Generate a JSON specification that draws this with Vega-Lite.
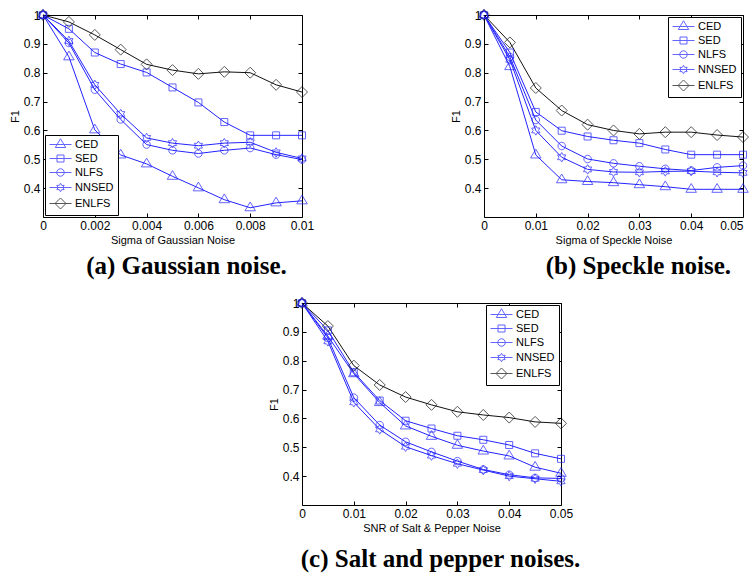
{
  "$schema": "https://vega.github.io/schema/vega-lite/v6.json",
  "padding": {"left": 8, "top": 6, "right": 0, "bottom": 0},
  "background": "white",
  "config": {
    "font": "Liberation Sans",
    "view": {"stroke": "black", "strokeWidth": 1},
    "point": {"size": 100, "filled": false, "strokeWidth": 1},
    "axis": {"grid": false, "domain": false, "tickColor": "black", "tickSize": -4, "labelPadding": 7, "labelFontSize": 12, "labelColor": "black", "labelFont": "Liberation Sans", "titleFont": "Liberation Sans", "titleFontSize": 11, "titleFontWeight": "normal", "titleColor": "black", "titlePadding": 3, "labelFlush": false, "labelOverlap": false},
    "legend": {"strokeColor": "black", "fillColor": "white", "padding": 4, "rowPadding": 2, "labelFontSize": 11, "labelColor": "black", "labelFont": "Liberation Sans", "symbolStrokeWidth": 1, "offset": 2, "symbolSize": 100, "symbolOffset": 6, "labelOffset": 9, "cornerRadius": 0},
    "title": {"font": "Liberation Serif", "fontSize": 25, "fontWeight": "bold", "orient": "bottom", "color": "black", "frame": "bounds", "offset": 9}
  },
  "datasets": {
    "gauss": [
      {"method":"CED","sigma":0,"F1":1.0},{"method":"CED","sigma":0.001,"F1":0.855},{"method":"CED","sigma":0.002,"F1":0.602},{"method":"CED","sigma":0.003,"F1":0.515},{"method":"CED","sigma":0.004,"F1":0.484},{"method":"CED","sigma":0.005,"F1":0.441},{"method":"CED","sigma":0.006,"F1":0.401},{"method":"CED","sigma":0.007,"F1":0.360},{"method":"CED","sigma":0.008,"F1":0.332},{"method":"CED","sigma":0.009,"F1":0.349},{"method":"CED","sigma":0.01,"F1":0.356},
      {"method":"SED","sigma":0,"F1":1.0},{"method":"SED","sigma":0.001,"F1":0.952},{"method":"SED","sigma":0.002,"F1":0.870},{"method":"SED","sigma":0.003,"F1":0.830},{"method":"SED","sigma":0.004,"F1":0.801},{"method":"SED","sigma":0.005,"F1":0.749},{"method":"SED","sigma":0.006,"F1":0.697},{"method":"SED","sigma":0.007,"F1":0.629},{"method":"SED","sigma":0.008,"F1":0.583},{"method":"SED","sigma":0.009,"F1":0.583},{"method":"SED","sigma":0.01,"F1":0.583},
      {"method":"NLFS","sigma":0,"F1":1.0},{"method":"NLFS","sigma":0.001,"F1":0.903},{"method":"NLFS","sigma":0.002,"F1":0.741},{"method":"NLFS","sigma":0.003,"F1":0.638},{"method":"NLFS","sigma":0.004,"F1":0.551},{"method":"NLFS","sigma":0.005,"F1":0.531},{"method":"NLFS","sigma":0.006,"F1":0.520},{"method":"NLFS","sigma":0.007,"F1":0.531},{"method":"NLFS","sigma":0.008,"F1":0.539},{"method":"NLFS","sigma":0.009,"F1":0.516},{"method":"NLFS","sigma":0.01,"F1":0.499},
      {"method":"NNSED","sigma":0,"F1":1.0},{"method":"NNSED","sigma":0.001,"F1":0.910},{"method":"NNSED","sigma":0.002,"F1":0.758},{"method":"NNSED","sigma":0.003,"F1":0.657},{"method":"NNSED","sigma":0.004,"F1":0.574},{"method":"NNSED","sigma":0.005,"F1":0.556},{"method":"NNSED","sigma":0.006,"F1":0.547},{"method":"NNSED","sigma":0.007,"F1":0.556},{"method":"NNSED","sigma":0.008,"F1":0.559},{"method":"NNSED","sigma":0.009,"F1":0.524},{"method":"NNSED","sigma":0.01,"F1":0.503},
      {"method":"ENLFS","sigma":0,"F1":1.0},{"method":"ENLFS","sigma":0.001,"F1":0.976},{"method":"ENLFS","sigma":0.002,"F1":0.931},{"method":"ENLFS","sigma":0.003,"F1":0.880},{"method":"ENLFS","sigma":0.004,"F1":0.829},{"method":"ENLFS","sigma":0.005,"F1":0.809},{"method":"ENLFS","sigma":0.006,"F1":0.796},{"method":"ENLFS","sigma":0.007,"F1":0.803},{"method":"ENLFS","sigma":0.008,"F1":0.800},{"method":"ENLFS","sigma":0.009,"F1":0.758},{"method":"ENLFS","sigma":0.01,"F1":0.733}
    ],
    "speckle": [
      {"method":"CED","sigma":0,"F1":1.0},{"method":"CED","sigma":0.005,"F1":0.821},{"method":"CED","sigma":0.01,"F1":0.515},{"method":"CED","sigma":0.015,"F1":0.429},{"method":"CED","sigma":0.02,"F1":0.423},{"method":"CED","sigma":0.025,"F1":0.419},{"method":"CED","sigma":0.03,"F1":0.412},{"method":"CED","sigma":0.035,"F1":0.405},{"method":"CED","sigma":0.04,"F1":0.396},{"method":"CED","sigma":0.045,"F1":0.396},{"method":"CED","sigma":0.05,"F1":0.396},
      {"method":"SED","sigma":0,"F1":1.0},{"method":"SED","sigma":0.005,"F1":0.870},{"method":"SED","sigma":0.01,"F1":0.664},{"method":"SED","sigma":0.015,"F1":0.599},{"method":"SED","sigma":0.02,"F1":0.579},{"method":"SED","sigma":0.025,"F1":0.566},{"method":"SED","sigma":0.03,"F1":0.556},{"method":"SED","sigma":0.035,"F1":0.534},{"method":"SED","sigma":0.04,"F1":0.516},{"method":"SED","sigma":0.045,"F1":0.516},{"method":"SED","sigma":0.05,"F1":0.516},
      {"method":"NLFS","sigma":0,"F1":1.0},{"method":"NLFS","sigma":0.005,"F1":0.855},{"method":"NLFS","sigma":0.01,"F1":0.636},{"method":"NLFS","sigma":0.015,"F1":0.546},{"method":"NLFS","sigma":0.02,"F1":0.501},{"method":"NLFS","sigma":0.025,"F1":0.486},{"method":"NLFS","sigma":0.03,"F1":0.476},{"method":"NLFS","sigma":0.035,"F1":0.467},{"method":"NLFS","sigma":0.04,"F1":0.461},{"method":"NLFS","sigma":0.045,"F1":0.472},{"method":"NLFS","sigma":0.05,"F1":0.478},
      {"method":"NNSED","sigma":0,"F1":1.0},{"method":"NNSED","sigma":0.005,"F1":0.845},{"method":"NNSED","sigma":0.01,"F1":0.600},{"method":"NNSED","sigma":0.015,"F1":0.507},{"method":"NNSED","sigma":0.02,"F1":0.465},{"method":"NNSED","sigma":0.025,"F1":0.456},{"method":"NNSED","sigma":0.03,"F1":0.455},{"method":"NNSED","sigma":0.035,"F1":0.458},{"method":"NNSED","sigma":0.04,"F1":0.459},{"method":"NNSED","sigma":0.045,"F1":0.455},{"method":"NNSED","sigma":0.05,"F1":0.453},
      {"method":"ENLFS","sigma":0,"F1":1.0},{"method":"ENLFS","sigma":0.005,"F1":0.905},{"method":"ENLFS","sigma":0.01,"F1":0.747},{"method":"ENLFS","sigma":0.015,"F1":0.669},{"method":"ENLFS","sigma":0.02,"F1":0.620},{"method":"ENLFS","sigma":0.025,"F1":0.600},{"method":"ENLFS","sigma":0.03,"F1":0.588},{"method":"ENLFS","sigma":0.035,"F1":0.594},{"method":"ENLFS","sigma":0.04,"F1":0.594},{"method":"ENLFS","sigma":0.045,"F1":0.584},{"method":"ENLFS","sigma":0.05,"F1":0.577}
    ],
    "saltpepper": [
      {"method":"CED","sigma":0,"F1":1.0},{"method":"CED","sigma":0.005,"F1":0.885},{"method":"CED","sigma":0.01,"F1":0.755},{"method":"CED","sigma":0.015,"F1":0.655},{"method":"CED","sigma":0.02,"F1":0.574},{"method":"CED","sigma":0.025,"F1":0.538},{"method":"CED","sigma":0.03,"F1":0.507},{"method":"CED","sigma":0.035,"F1":0.487},{"method":"CED","sigma":0.04,"F1":0.470},{"method":"CED","sigma":0.045,"F1":0.431},{"method":"CED","sigma":0.05,"F1":0.410},
      {"method":"SED","sigma":0,"F1":1.0},{"method":"SED","sigma":0.005,"F1":0.905},{"method":"SED","sigma":0.01,"F1":0.760},{"method":"SED","sigma":0.015,"F1":0.662},{"method":"SED","sigma":0.02,"F1":0.592},{"method":"SED","sigma":0.025,"F1":0.565},{"method":"SED","sigma":0.03,"F1":0.540},{"method":"SED","sigma":0.035,"F1":0.526},{"method":"SED","sigma":0.04,"F1":0.508},{"method":"SED","sigma":0.045,"F1":0.479},{"method":"SED","sigma":0.05,"F1":0.460},
      {"method":"NLFS","sigma":0,"F1":1.0},{"method":"NLFS","sigma":0.005,"F1":0.879},{"method":"NLFS","sigma":0.01,"F1":0.672},{"method":"NLFS","sigma":0.015,"F1":0.577},{"method":"NLFS","sigma":0.02,"F1":0.519},{"method":"NLFS","sigma":0.025,"F1":0.484},{"method":"NLFS","sigma":0.03,"F1":0.452},{"method":"NLFS","sigma":0.035,"F1":0.423},{"method":"NLFS","sigma":0.04,"F1":0.405},{"method":"NLFS","sigma":0.045,"F1":0.394},{"method":"NLFS","sigma":0.05,"F1":0.392},
      {"method":"NNSED","sigma":0,"F1":1.0},{"method":"NNSED","sigma":0.005,"F1":0.867},{"method":"NNSED","sigma":0.01,"F1":0.656},{"method":"NNSED","sigma":0.015,"F1":0.562},{"method":"NNSED","sigma":0.02,"F1":0.502},{"method":"NNSED","sigma":0.025,"F1":0.471},{"method":"NNSED","sigma":0.03,"F1":0.443},{"method":"NNSED","sigma":0.035,"F1":0.421},{"method":"NNSED","sigma":0.04,"F1":0.400},{"method":"NNSED","sigma":0.045,"F1":0.391},{"method":"NNSED","sigma":0.05,"F1":0.382},
      {"method":"ENLFS","sigma":0,"F1":1.0},{"method":"ENLFS","sigma":0.005,"F1":0.920},{"method":"ENLFS","sigma":0.01,"F1":0.783},{"method":"ENLFS","sigma":0.015,"F1":0.716},{"method":"ENLFS","sigma":0.02,"F1":0.674},{"method":"ENLFS","sigma":0.025,"F1":0.647},{"method":"ENLFS","sigma":0.03,"F1":0.623},{"method":"ENLFS","sigma":0.035,"F1":0.612},{"method":"ENLFS","sigma":0.04,"F1":0.603},{"method":"ENLFS","sigma":0.045,"F1":0.588},{"method":"ENLFS","sigma":0.05,"F1":0.583}
    ]
  },
  "resolve": {"scale": {"shape": "independent", "color": "independent"}, "legend": {"shape": "independent", "color": "independent"}},
  "vconcat": [
    {
      "spacing": 134,
      "resolve": {"scale": {"shape": "independent", "color": "independent"}, "legend": {"shape": "independent", "color": "independent"}},
      "hconcat": [
        {
          "width": 259, "height": 202,
          "data": {"name": "gauss"},
          "title": {"text": "(a) Gaussian noise.", "dx": 25},
          "layer": [
            {
              "mark": {"type": "line", "strokeWidth": 1},
              "encoding": {
                "x": {"field": "sigma", "type": "quantitative", "scale": {"domain": [0, 0.01], "nice": false, "zero": false}, "axis": {"values": [0, 0.002, 0.004, 0.006, 0.008, 0.01], "labelExpr": "format(datum.value, '~g')", "title": "Sigma of Gaussian Noise"}},
                "y": {"field": "F1", "type": "quantitative", "scale": {"domain": [0.3, 1], "nice": false, "zero": false}, "axis": {"values": [0.4, 0.5, 0.6, 0.7, 0.8, 0.9, 1], "labelExpr": "format(datum.value, '~g')", "title": "F1"}},
                "color": {"condition": {"test": "datum.method === 'ENLFS'", "value": "#111111"}, "value": "#2323ff"},
                "detail": {"field": "method"}
              }
            },
            {
              "mark": {"type": "point"},
              "encoding": {
                "x": {"field": "sigma", "type": "quantitative", "axis": null},
                "y": {"field": "F1", "type": "quantitative", "axis": null},
                "color": {"condition": {"test": "datum.method === 'ENLFS'", "value": "#111111"}, "value": "#2323ff"},
                "shape": {"field": "method", "type": "nominal", "scale": {"domain": ["ENLFS", "NNSED", "NLFS", "SED", "CED"], "range": ["M0,-1.1L1.1,0L0,1.1L-1.1,0Z", "M0,-0.95L0.274,-0.475L0.823,-0.475L0.548,0L0.823,0.475L0.274,0.475L0,0.95L-0.274,0.475L-0.823,0.475L-0.548,0L-0.823,-0.475L-0.274,-0.475Z", "M-0.75,0A0.75,0.75,0,1,0,0.75,0A0.75,0.75,0,1,0,-0.75,0Z", "M-0.7,-0.7H0.7V0.7H-0.7Z", "M0,-1.15L1.05,0.6L-1.05,0.6Z"]}, "legend": null}
              }
            },
            {
              "transform": [{"filter": "datum.F1 > 2"}],
              "mark": {"type": "point"},
              "encoding": {
                "x": {"field": "sigma", "type": "quantitative", "axis": null},
                "y": {"field": "F1", "type": "quantitative", "axis": null},
                "color": {"field": "method", "type": "nominal", "scale": {"domain": ["CED", "SED", "NLFS", "NNSED", "ENLFS"], "range": ["#2323ff", "#2323ff", "#2323ff", "#2323ff", "#111111"]}, "legend": {"title": null, "orient": "bottom-left"}},
                "shape": {"field": "method", "type": "nominal", "scale": {"domain": ["CED", "SED", "NLFS", "NNSED", "ENLFS"], "range": ["M-2.2,0H2.2M0,-1.15L1.05,0.6L-1.05,0.6Z", "M-2.2,0H2.2M-0.7,-0.7H0.7V0.7H-0.7Z", "M-2.2,0H2.2M-0.75,0A0.75,0.75,0,1,0,0.75,0A0.75,0.75,0,1,0,-0.75,0Z", "M-2.2,0H2.2M0,-0.85L0.245,-0.425L0.736,-0.425L0.49,0L0.736,0.425L0.245,0.425L0,0.85L-0.245,0.425L-0.736,0.425L-0.49,0L-0.736,-0.425L-0.245,-0.425Z", "M-2.2,0H2.2M0,-1.1L1.1,0L0,1.1L-1.1,0Z"]}, "legend": {"title": null, "orient": "bottom-left"}}
              }
            },
            {
              "mark": {"type": "point", "opacity": 0},
              "encoding": {
                "x": {"field": "sigma", "type": "quantitative", "axis": {"orient": "top", "labels": false, "title": null, "values": [0, 0.002, 0.004, 0.006, 0.008, 0.01]}},
                "y": {"field": "F1", "type": "quantitative", "axis": {"orient": "right", "labels": false, "title": null, "values": [0.4, 0.5, 0.6, 0.7, 0.8, 0.9, 1]}}
              }
            }
          ],
          "resolve": {"axis": {"x": "independent", "y": "independent"}, "scale": {"shape": "independent", "color": "independent"}}
        },
        {
          "width": 259, "height": 202,
          "data": {"name": "speckle"},
          "title": {"text": "(b) Speckle noise.", "dx": 38},
          "layer": [
            {
              "mark": {"type": "line", "strokeWidth": 1},
              "encoding": {
                "x": {"field": "sigma", "type": "quantitative", "scale": {"domain": [0, 0.05], "nice": false, "zero": false}, "axis": {"values": [0, 0.01, 0.02, 0.03, 0.04, 0.05], "labelExpr": "format(datum.value, '~g')", "title": "Sigma of Speckle Noise", "labelAlign": {"condition": {"test": "datum.value >= 0.05", "value": "right"}, "value": "center"}, "labelDx": {"condition": {"test": "datum.value >= 0.05", "value": 9}, "value": 0}}},
                "y": {"field": "F1", "type": "quantitative", "scale": {"domain": [0.3, 1], "nice": false, "zero": false}, "axis": {"values": [0.4, 0.5, 0.6, 0.7, 0.8, 0.9, 1], "labelExpr": "format(datum.value, '~g')", "title": "F1"}},
                "color": {"condition": {"test": "datum.method === 'ENLFS'", "value": "#111111"}, "value": "#2323ff"},
                "detail": {"field": "method"}
              }
            },
            {
              "mark": {"type": "point"},
              "encoding": {
                "x": {"field": "sigma", "type": "quantitative", "axis": null},
                "y": {"field": "F1", "type": "quantitative", "axis": null},
                "color": {"condition": {"test": "datum.method === 'ENLFS'", "value": "#111111"}, "value": "#2323ff"},
                "shape": {"field": "method", "type": "nominal", "scale": {"domain": ["ENLFS", "NNSED", "NLFS", "SED", "CED"], "range": ["M0,-1.1L1.1,0L0,1.1L-1.1,0Z", "M0,-0.95L0.274,-0.475L0.823,-0.475L0.548,0L0.823,0.475L0.274,0.475L0,0.95L-0.274,0.475L-0.823,0.475L-0.548,0L-0.823,-0.475L-0.274,-0.475Z", "M-0.75,0A0.75,0.75,0,1,0,0.75,0A0.75,0.75,0,1,0,-0.75,0Z", "M-0.7,-0.7H0.7V0.7H-0.7Z", "M0,-1.15L1.05,0.6L-1.05,0.6Z"]}, "legend": null}
              }
            },
            {
              "transform": [{"filter": "datum.F1 > 2"}],
              "mark": {"type": "point"},
              "encoding": {
                "x": {"field": "sigma", "type": "quantitative", "axis": null},
                "y": {"field": "F1", "type": "quantitative", "axis": null},
                "color": {"field": "method", "type": "nominal", "scale": {"domain": ["CED", "SED", "NLFS", "NNSED", "ENLFS"], "range": ["#2323ff", "#2323ff", "#2323ff", "#2323ff", "#111111"]}, "legend": {"title": null, "orient": "top-right"}},
                "shape": {"field": "method", "type": "nominal", "scale": {"domain": ["CED", "SED", "NLFS", "NNSED", "ENLFS"], "range": ["M-2.2,0H2.2M0,-1.15L1.05,0.6L-1.05,0.6Z", "M-2.2,0H2.2M-0.7,-0.7H0.7V0.7H-0.7Z", "M-2.2,0H2.2M-0.75,0A0.75,0.75,0,1,0,0.75,0A0.75,0.75,0,1,0,-0.75,0Z", "M-2.2,0H2.2M0,-0.85L0.245,-0.425L0.736,-0.425L0.49,0L0.736,0.425L0.245,0.425L0,0.85L-0.245,0.425L-0.736,0.425L-0.49,0L-0.736,-0.425L-0.245,-0.425Z", "M-2.2,0H2.2M0,-1.1L1.1,0L0,1.1L-1.1,0Z"]}, "legend": {"title": null, "orient": "top-right"}}
              }
            },
            {
              "mark": {"type": "point", "opacity": 0},
              "encoding": {
                "x": {"field": "sigma", "type": "quantitative", "axis": {"orient": "top", "labels": false, "title": null, "values": [0, 0.01, 0.02, 0.03, 0.04, 0.05]}},
                "y": {"field": "F1", "type": "quantitative", "axis": {"orient": "right", "labels": false, "title": null, "values": [0.4, 0.5, 0.6, 0.7, 0.8, 0.9, 1]}}
              }
            }
          ],
          "resolve": {"axis": {"x": "independent", "y": "independent"}, "scale": {"shape": "independent", "color": "independent"}}
        }
      ]
    },
    {
      "spacing": 0,
      "resolve": {"scale": {"shape": "independent", "color": "independent"}, "legend": {"shape": "independent", "color": "independent"}},
      "hconcat": [
        {
          "width": 224, "height": 10,
          "view": {"stroke": null},
          "data": {"values": [{"a": 0}]},
          "mark": {"type": "point", "opacity": 0},
          "encoding": {}
        },
        {
          "width": 259, "height": 202,
          "data": {"name": "saltpepper"},
          "title": {"text": "(c) Salt and pepper noises.", "dx": 20, "offset": 14},
          "layer": [
            {
              "mark": {"type": "line", "strokeWidth": 1},
              "encoding": {
                "x": {"field": "sigma", "type": "quantitative", "scale": {"domain": [0, 0.05], "nice": false, "zero": false}, "axis": {"values": [0, 0.01, 0.02, 0.03, 0.04, 0.05], "labelExpr": "format(datum.value, '~g')", "title": "SNR of Salt & Pepper Noise"}},
                "y": {"field": "F1", "type": "quantitative", "scale": {"domain": [0.3, 1], "nice": false, "zero": false}, "axis": {"values": [0.4, 0.5, 0.6, 0.7, 0.8, 0.9, 1], "labelExpr": "format(datum.value, '~g')", "title": "F1"}},
                "color": {"condition": {"test": "datum.method === 'ENLFS'", "value": "#111111"}, "value": "#2323ff"},
                "detail": {"field": "method"}
              }
            },
            {
              "mark": {"type": "point"},
              "encoding": {
                "x": {"field": "sigma", "type": "quantitative", "axis": null},
                "y": {"field": "F1", "type": "quantitative", "axis": null},
                "color": {"condition": {"test": "datum.method === 'ENLFS'", "value": "#111111"}, "value": "#2323ff"},
                "shape": {"field": "method", "type": "nominal", "scale": {"domain": ["ENLFS", "NNSED", "NLFS", "SED", "CED"], "range": ["M0,-1.1L1.1,0L0,1.1L-1.1,0Z", "M0,-0.95L0.274,-0.475L0.823,-0.475L0.548,0L0.823,0.475L0.274,0.475L0,0.95L-0.274,0.475L-0.823,0.475L-0.548,0L-0.823,-0.475L-0.274,-0.475Z", "M-0.75,0A0.75,0.75,0,1,0,0.75,0A0.75,0.75,0,1,0,-0.75,0Z", "M-0.7,-0.7H0.7V0.7H-0.7Z", "M0,-1.15L1.05,0.6L-1.05,0.6Z"]}, "legend": null}
              }
            },
            {
              "transform": [{"filter": "datum.F1 > 2"}],
              "mark": {"type": "point"},
              "encoding": {
                "x": {"field": "sigma", "type": "quantitative", "axis": null},
                "y": {"field": "F1", "type": "quantitative", "axis": null},
                "color": {"field": "method", "type": "nominal", "scale": {"domain": ["CED", "SED", "NLFS", "NNSED", "ENLFS"], "range": ["#2323ff", "#2323ff", "#2323ff", "#2323ff", "#111111"]}, "legend": {"title": null, "orient": "top-right"}},
                "shape": {"field": "method", "type": "nominal", "scale": {"domain": ["CED", "SED", "NLFS", "NNSED", "ENLFS"], "range": ["M-2.2,0H2.2M0,-1.15L1.05,0.6L-1.05,0.6Z", "M-2.2,0H2.2M-0.7,-0.7H0.7V0.7H-0.7Z", "M-2.2,0H2.2M-0.75,0A0.75,0.75,0,1,0,0.75,0A0.75,0.75,0,1,0,-0.75,0Z", "M-2.2,0H2.2M0,-0.85L0.245,-0.425L0.736,-0.425L0.49,0L0.736,0.425L0.245,0.425L0,0.85L-0.245,0.425L-0.736,0.425L-0.49,0L-0.736,-0.425L-0.245,-0.425Z", "M-2.2,0H2.2M0,-1.1L1.1,0L0,1.1L-1.1,0Z"]}, "legend": {"title": null, "orient": "top-right"}}
              }
            },
            {
              "mark": {"type": "point", "opacity": 0},
              "encoding": {
                "x": {"field": "sigma", "type": "quantitative", "axis": {"orient": "top", "labels": false, "title": null, "values": [0, 0.01, 0.02, 0.03, 0.04, 0.05]}},
                "y": {"field": "F1", "type": "quantitative", "axis": {"orient": "right", "labels": false, "title": null, "values": [0.4, 0.5, 0.6, 0.7, 0.8, 0.9, 1]}}
              }
            }
          ],
          "resolve": {"axis": {"x": "independent", "y": "independent"}, "scale": {"shape": "independent", "color": "independent"}}
        }
      ]
    }
  ],
  "spacing": 14
}
